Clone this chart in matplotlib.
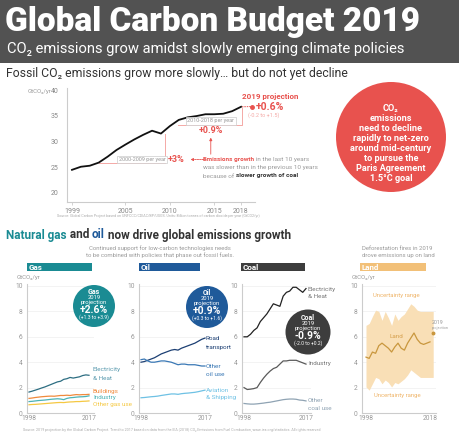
import matplotlib
matplotlib.use("Agg")
import matplotlib.pyplot as plt
from matplotlib.patches import Circle, Rectangle
import numpy as np

plt.rcParams['font.family'] = ['Roboto', 'DejaVu Sans']

# ---------------- data ----------------
fossil_years = list(range(1999, 2019))
fossil_vals = [24.5, 25.1, 25.3, 25.9, 27.05, 28.35, 29.4, 30.4, 31.3, 32.1,
               31.55, 33.0, 34.2, 34.7, 34.95, 35.3, 35.3, 35.4, 35.9, 36.75]
proj_year = 2019
proj_val = 36.8
fossil_xticks = [1999, 2005, 2010, 2015, 2018]
fossil_yticks = [20, 25, 30, 35, 40]

sector_years = list(range(1998, 2018))
gas_elec = [1.65, 1.72, 1.8, 1.88, 1.97, 2.05, 2.15, 2.25, 2.35, 2.45, 2.5, 2.65, 2.7, 2.8, 2.75, 2.8, 2.85, 2.95, 3.0, 2.97]
gas_build = [1.15, 1.18, 1.22, 1.25, 1.28, 1.3, 1.32, 1.33, 1.32, 1.35, 1.38, 1.38, 1.4, 1.38, 1.42, 1.45, 1.43, 1.45, 1.45, 1.47]
gas_ind = [0.9, 0.92, 0.95, 0.98, 1.0, 1.02, 1.05, 1.08, 1.1, 1.12, 1.1, 1.05, 1.15, 1.2, 1.22, 1.25, 1.27, 1.28, 1.3, 1.35]
gas_other = [0.65, 0.67, 0.68, 0.7, 0.72, 0.74, 0.76, 0.78, 0.8, 0.82, 0.83, 0.82, 0.85, 0.87, 0.88, 0.9, 0.9, 0.92, 0.93, 0.95]

oil_road = [4.0, 4.05, 4.15, 4.25, 4.35, 4.5, 4.65, 4.75, 4.85, 4.95, 5.0, 4.95, 5.1, 5.2, 5.3, 5.4, 5.5, 5.65, 5.8, 5.9]
oil_other = [4.2, 4.25, 4.1, 4.0, 4.0, 4.05, 4.1, 4.1, 4.05, 4.0, 3.9, 3.8, 3.85, 3.85, 3.8, 3.8, 3.8, 3.75, 3.7, 3.7]
oil_avia = [1.2, 1.22, 1.25, 1.28, 1.3, 1.33, 1.38, 1.42, 1.46, 1.5, 1.5, 1.47, 1.52, 1.55, 1.57, 1.6, 1.63, 1.68, 1.74, 1.8]

coal_elec = [6.0, 6.0, 6.2, 6.5, 6.7, 7.2, 7.5, 7.8, 8.2, 8.6, 8.5, 8.4, 9.2, 9.5, 9.6, 9.9, 9.9, 9.7, 9.5, 9.8]
coal_ind = [2.0, 1.85, 1.88, 1.92, 2.0, 2.4, 2.75, 3.05, 3.3, 3.5, 3.6, 3.85, 4.1, 4.1, 4.15, 4.15, 4.15, 4.05, 3.95, 3.85]
coal_other = [0.75, 0.72, 0.7, 0.7, 0.72, 0.75, 0.78, 0.82, 0.85, 0.9, 0.95, 1.0, 1.05, 1.08, 1.1, 1.1, 1.08, 1.02, 1.0, 0.95]

land_years = list(range(1998, 2019))
land_vals = [4.4, 4.3, 4.8, 4.7, 5.3, 5.5, 5.3, 5.1, 4.8, 5.2, 5.5, 5.1, 4.95, 5.5, 5.9, 6.3, 5.8, 5.5, 5.4, 5.5, 5.6]
band_years = list(range(1998, 2020))
land_upper = [6.9, 7.05, 7.6, 8.1, 8.0, 7.3, 8.0, 7.5, 6.9, 7.8, 7.3, 7.6, 7.8, 8.2, 8.6, 8.4, 8.1, 8.0, 8.0, 8.0, 8.0, 8.0]
land_lower = [2.05, 1.8, 2.3, 2.8, 2.7, 2.3, 2.6, 2.4, 2.05, 2.4, 2.3, 2.5, 2.7, 3.0, 3.4, 3.2, 3.0, 2.8, 2.8, 2.8, 2.8, 2.8]
land_proj_year = 2019
land_proj_val = 6.3

panel_yticks = [0, 2, 4, 6, 8, 10]

# ---------------- colours ----------------
RED = '#e8524e'
PINK = '#f4a9a6'
GREY = '#9a9a9a'
TEAL = '#1a8b93'
BLUE = '#1f5a9a'
COAL = '#3d3d3d'
LAND = '#f2c078'

W, H = 460, 437
fig = plt.figure(figsize=(W / 100, H / 100), dpi=100)

bg = fig.add_axes([0, 0, 1, 1], zorder=0)
bg.set_xlim(0, W); bg.set_ylim(H, 0); bg.axis('off')
fg = fig.add_axes([0, 0, 1, 1], zorder=10)
fg.set_xlim(0, W); fg.set_ylim(H, 0); fg.axis('off')
fg.patch.set_alpha(0)

renderer = fig.canvas.get_renderer()


def rich(ax, x, y, parts, size, va='center'):
    for s, color, weight in parts:
        t = ax.text(x, y, s, color=color, fontweight=weight, fontsize=size,
                    va=va, ha='left')
        bb = t.get_window_extent(renderer=renderer)
        x = bb.x1


def pax(x0, y0, x1, y1, zorder=2):
    return fig.add_axes([x0 / W, 1 - y1 / H, (x1 - x0) / W, (y1 - y0) / H], zorder=zorder)


# ---------------- header ----------------
bg.add_patch(Rectangle((0, 0), W, 63, color='#525252', lw=0))
bg.text(5, 22, 'Global Carbon Budget 2019', color='white', fontsize=24,
        fontweight='black', va='center')
bg.text(7, 49, 'CO₂ emissions grow amidst slowly emerging climate policies',
        color='white', fontsize=10.6, va='center')
bg.text(6, 73, 'Fossil CO₂ emissions grow more slowly… but do not yet decline',
        color='#333333', fontsize=8.8, va='center')

# ---------------- top chart ----------------
ax = pax(67, 88, 255, 202)
ax.plot(fossil_years, fossil_vals, color='#111111', lw=1.3, zorder=3)
ax.set_xlim(1998.44, 2019.57)
ax.set_ylim(18.25, 40.4)
ax.set_xticks(fossil_xticks)
ax.set_yticks(fossil_yticks)
for s in ['top', 'right']:
    ax.spines[s].set_visible(False)
for s in ['left', 'bottom']:
    ax.spines[s].set_color('#cccccc')
    ax.spines[s].set_linewidth(0.8)
ax.tick_params(axis='both', colors='#cccccc', labelcolor='#888888', labelsize=5,
               length=2, width=0.6, pad=2)
ax.tick_params(axis='y', length=0, pad=6)
ax.patch.set_alpha(0)

# brackets
ax.plot([2002, 2009.5, 2009.5], [25.8, 25.8, 31.5], color=PINK, lw=0.7, zorder=2)
ax.plot([2010.9, 2018.1, 2018.1], [33.3, 33.3, 36.6], color=PINK, lw=0.7, zorder=2)
bb = dict(boxstyle='square,pad=0.25', fc='white', ec='#cccccc', lw=0.5)
ax.text(2006.9, 26.5, '2000-2009 per year', fontsize=4, color=GREY, ha='center',
        va='center', bbox=bb, zorder=4)
ax.text(2014.6, 34.0, '2010-2018 per year', fontsize=4, color=GREY, ha='center',
        va='center', bbox=bb, zorder=4)
ax.text(2010.7, 26.5, '+3%', fontsize=6.5, color=RED, fontweight='bold',
        ha='center', va='center')
ax.text(2014.6, 32.1, '+0.9%', fontsize=6.5, color=RED, fontweight='bold',
        ha='center', va='center')
ax.annotate('', xy=(2012.0, 26.5), xytext=(2014.4, 26.5),
            arrowprops=dict(arrowstyle='-|>', color=RED, lw=0.6, mutation_scale=4,
                            linestyle=(0, (2, 1))))
ax.annotate('', xy=(2014.6, 31.3), xytext=(2014.6, 27.0),
            arrowprops=dict(arrowstyle='-|>', color=RED, lw=0.6, mutation_scale=4))
ax.plot([2018.1, proj_year + 0.2], [fossil_vals[-1], proj_val], color=RED, lw=0.7,
        ls=(0, (1.5, 1)), clip_on=False)
ax.plot([proj_year + 0.2], [proj_val], 'o', color=RED, ms=2.5, clip_on=False)

bg.text(242, 97, '2019 projection', color=RED, fontsize=5.8, fontweight='bold', va='center')
fg.text(256, 107, '+0.6%', color=RED, fontsize=7.5, fontweight='bold', va='center')
fg.text(248, 115.5, '(-0.2 to +1.5)', color=PINK, fontsize=4, va='center')

rich(fg, 203, 160, [('Emissions growth', RED, 'bold'),
                    (' in the last 10 years', GREY, 'normal')], 4.6)
fg.text(203, 168, 'was slower than in the previous 10 years', color=GREY,
        fontsize=4.6, va='center')
rich(fg, 203, 176, [('because of ', GREY, 'normal'),
                    ('slower growth of coal', '#333333', 'bold')], 4.6)

fg.text(57, 216, 'Source: Global Carbon Project based on UNFCCC/CDIAC/BP/USGS. Units: '
        'Billion tonnes of carbon dioxide per year (GtCO2/yr)', color='#aaaaaa',
        fontsize=2.6, va='center')
fg.text(28, 91, 'GtCO₂/yr', color='#999999', fontsize=4.3, va='center')

# red circle
bg.add_patch(Circle((391, 137), 55, color=RED, lw=0))
circle_lines = ['CO₂', 'emissions', 'need to decline', 'rapidly to net-zero',
                'around mid-century', 'to pursue the', 'Paris Agreement', '1.5°C goal']
for i, s in enumerate(circle_lines):
    fg.text(391, 108 + i * 10.1, s, color='white', fontsize=6.6, fontweight='bold',
            ha='center', va='center')

# ---------------- bottom section ----------------
rich(bg, 6, 235, [('Natural gas', TEAL, 'bold'), (' and ', '#333333', 'bold'),
                  ('oil', BLUE, 'bold'),
                  (' now drive global emissions growth', '#333333', 'bold')], 8.5)
fg.text(160, 248, 'Continued support for low-carbon technologies needs', color=GREY,
        fontsize=4.3, ha='center', va='center')
fg.text(160, 255, 'to be combined with policies that phase out fossil fuels.', color=GREY,
        fontsize=4.3, ha='center', va='center')
fg.text(362, 248, 'Deforestation fires in 2019', color=GREY, fontsize=4.3, va='center')
fg.text(362, 255, 'drove emissions up on land', color=GREY, fontsize=4.3, va='center')

for x0, x1, lab, col in [(27, 92, 'Gas', TEAL), (139, 200, 'Oil', BLUE),
                         (241, 305, 'Coal', COAL), (360, 426, 'Land', LAND)]:
    bg.add_patch(Rectangle((x0, 263), x1 - x0, 8, color=col, lw=0))
    bg.text(x0 + 2, 267, lab, color='white', fontsize=5.8, fontweight='bold', va='center')

fg.text(17, 277.5, 'GtCO₂/yr', color='#999999', fontsize=4.3, va='center')
fg.text(352, 277.5, 'GtCO₂/yr', color='#999999', fontsize=4.3, va='center')


def panel(x0, x1, y_first_px, y_last_px, first, last, xticks):
    a = pax(x0, 284, x1, 413)
    per = (y_last_px - y_first_px) / (last - first)
    a.set_xlim(first - (y_first_px - x0) / per, last + (x1 - y_last_px) / per)
    a.set_ylim(0, 10 * 129 / 127)
    a.set_yticks(panel_yticks)
    a.set_xticks(xticks)
    for s in ['top', 'right']:
        a.spines[s].set_visible(False)
    for s in ['left', 'bottom']:
        a.spines[s].set_color('#cccccc')
        a.spines[s].set_linewidth(0.8)
    a.tick_params(axis='both', colors='#cccccc', labelcolor='#999999', labelsize=4.8,
                  length=0, pad=1.5)
    a.tick_params(axis='y', pad=3)
    a.grid(axis='y', color='#eeeeee', lw=0.5)
    a.set_axisbelow(True)
    a.patch.set_alpha(0)
    return a


ag = panel(27, 94, 29, 89, 1998, 2017, [1998, 2017])
ag.plot(sector_years, gas_elec, color='#2d6e82', lw=0.9)
ag.plot(sector_years, gas_build, color='#f08a3c', lw=0.9)
ag.plot(sector_years, gas_ind, color='#4db3b5', lw=0.9)
ag.plot(sector_years, gas_other, color='#f5c842', lw=0.9)

ao = panel(139, 209, 141, 205, 1998, 2017, [1998, 2017])
ao.plot(sector_years, oil_road, color='#1c3f73', lw=0.9)
ao.plot(sector_years, oil_other, color='#3a78b5', lw=0.9)
ao.plot(sector_years, oil_avia, color='#6ec1e4', lw=0.9)

ac = panel(242, 311, 244, 306, 1998, 2017, [1998, 2017])
ac.plot(sector_years, coal_elec, color='#222222', lw=0.9)
ac.plot(sector_years, coal_ind, color='#5a5a5a', lw=0.9)
ac.plot(sector_years, coal_other, color='#8fa3b3', lw=0.9)

al = panel(362, 436, 366, 430, 1998, 2018, [1998, 2018])
al.fill_between(band_years, land_lower, land_upper, color='#f9dfb6', lw=0)
al.plot(land_years, land_vals, color='#c9973e', lw=0.9)
al.plot([land_proj_year], [land_proj_val], 'o', color='#c9973e', ms=1.8)

# line labels
sz = 4.6
fg.text(93, 370, 'Electricity', color='#5a9aae', fontsize=sz, va='center')
fg.text(93, 378, '& Heat', color='#5a9aae', fontsize=sz, va='center')
fg.text(93, 391, 'Buildings', color='#f08a3c', fontsize=sz, va='center')
fg.text(93, 397.5, 'Industry', color='#4db3b5', fontsize=sz, va='center')
fg.text(93, 404.5, 'Other gas use', color='#f5c842', fontsize=sz, va='center')

fg.text(206, 339, 'Road', color='#1c3f73', fontsize=sz, va='center')
fg.text(206, 347, 'transport', color='#1c3f73', fontsize=sz, va='center')
fg.text(206, 366, 'Other', color='#3a78b5', fontsize=sz, va='center')
fg.text(206, 374.5, 'oil use', color='#3a78b5', fontsize=sz, va='center')
fg.text(206, 390, 'Aviation', color='#6ec1e4', fontsize=sz, va='center')
fg.text(206, 398, '& Shipping', color='#6ec1e4', fontsize=sz, va='center')

fg.text(308, 289, 'Electricity', color='#777777', fontsize=sz, va='center')
fg.text(308, 297, '& Heat', color='#777777', fontsize=sz, va='center')
fg.text(308, 364, 'Industry', color='#777777', fontsize=sz, va='center')
fg.text(308, 401, 'Other', color='#8fa3b3', fontsize=sz, va='center')
fg.text(308, 409, 'coal use', color='#8fa3b3', fontsize=sz, va='center')

fg.text(396, 295, 'Uncertainty range', color='#efb56a', fontsize=4.3, ha='center', va='center')
fg.text(396, 337, 'Land', color='#d6a04e', fontsize=4.6, ha='center', va='center')
fg.text(397, 395.5, 'Uncertainty range', color='#efb56a', fontsize=4.3, ha='center', va='center')
fg.text(432, 322, '2019', color='#999999', fontsize=3.8, va='center')
fg.text(432, 328, 'projection', color='#999999', fontsize=2.8, va='center')

# projection circles
for cx, cy, r, col, name, val, rng in [
        (94, 306, 21, TEAL, 'Gas', '+2.6%', '(+1.3 to +3.9)'),
        (207, 307, 21, BLUE, 'Oil', '+0.9%', '(+0.3 to +1.6)'),
        (308, 332, 22.5, COAL, 'Coal', '-0.9%', '(-2.0 to +0.2)')]:
    fg.add_patch(Circle((cx, cy), r, color=col, lw=0))
    fg.text(cx, cy - 14, name, color='white', fontsize=5, fontweight='bold', ha='center', va='center')
    fg.text(cx, cy - 8.5, '2019', color='white', fontsize=4.2, ha='center', va='center')
    fg.text(cx, cy - 3.5, 'projection', color='white', fontsize=4.2, ha='center', va='center')
    fg.text(cx, cy + 4, val, color='white', fontsize=7.5, fontweight='bold', ha='center', va='center')
    fg.text(cx, cy + 11.5, rng, color='white', fontsize=3.6, ha='center', va='center')

fg.text(23, 430, 'Source: 2019 projection by the Global Carbon Project. Trend to 2017 based on data '
        'from the IEA (2018) CO₂ Emissions from Fuel Combustion, www.iea.org/statistics. '
        'All rights reserved', color='#aaaaaa', fontsize=2.6, va='center')

fig.savefig('out.png', dpi=100)
